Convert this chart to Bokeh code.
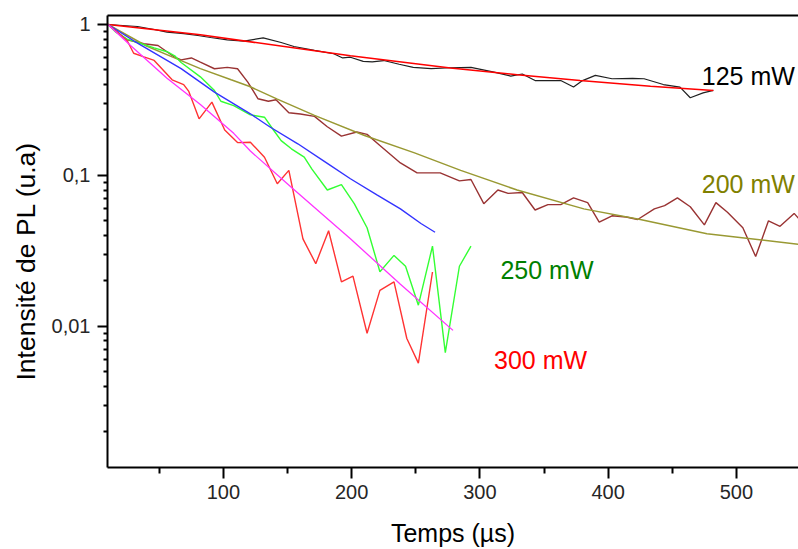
from bokeh.plotting import figure
from bokeh.models import FixedTicker, CustomJSTickFormatter, Range1d, Label, LinearAxis, Title
from bokeh.embed import file_html
from bokeh.resources import INLINE

# ---- data ----
# 125 mW : measured decay and fit
t125 = [10, 33, 45, 56, 69, 80, 90, 103, 116, 131, 145, 155, 171, 186, 193, 199, 209, 216, 225,
        237, 248, 262, 277, 293, 311, 324, 333, 343, 363, 373, 380, 390, 403, 419, 428, 443,
        456, 464, 474, 482]
i125 = [1.0, 0.97, 0.93, 0.89, 0.87, 0.845, 0.82, 0.79, 0.775, 0.816, 0.76, 0.715, 0.673, 0.64,
        0.60, 0.607, 0.57, 0.565, 0.577, 0.545, 0.52, 0.51, 0.517, 0.52, 0.483, 0.455, 0.47,
        0.425, 0.425, 0.385, 0.425, 0.46, 0.437, 0.44, 0.437, 0.40, 0.385, 0.327, 0.352, 0.366]
tf125 = [10, 82, 160, 199, 277, 329, 378, 433, 482]
if125 = [1.0, 0.855, 0.69, 0.62, 0.515, 0.465, 0.425, 0.39, 0.365]

# 200 mW
t200 = [10, 25, 38, 49, 62, 67, 75, 82, 93, 103, 111, 119, 127, 135, 141, 151, 160, 171, 181,
        192, 204, 212, 222, 238, 251, 269, 284, 293, 303, 314, 322, 333, 343, 353, 363, 373,
        384, 393, 403, 414, 423, 436, 444, 454, 464, 475, 484, 493, 505, 515, 525, 534, 545, 555]
i200 = [1.0, 0.79, 0.745, 0.726, 0.607, 0.583, 0.60, 0.5625, 0.509, 0.52, 0.509, 0.415, 0.322,
        0.31, 0.317, 0.26, 0.255, 0.246, 0.21, 0.182, 0.194, 0.187, 0.158, 0.121, 0.104, 0.104,
        0.092, 0.094, 0.065, 0.08, 0.076, 0.077, 0.059, 0.064, 0.064, 0.071, 0.066, 0.049,
        0.054, 0.053, 0.051, 0.06, 0.063, 0.071, 0.062, 0.047, 0.066, 0.057, 0.045, 0.029,
        0.05, 0.046, 0.056, 0.045]
tf200 = [10, 40, 60, 82, 106, 120, 142, 171, 210, 249, 285, 329, 381, 425, 477, 555]
if200 = [1.0, 0.72, 0.61, 0.51, 0.43, 0.39, 0.32, 0.25, 0.184, 0.141, 0.108, 0.08, 0.06, 0.051,
         0.041, 0.0345]

# 250 mW
t250 = [10, 16, 25, 35, 46, 56, 62, 67, 82, 93, 98, 108, 121, 132, 139, 145, 153, 163, 169,
        181, 192, 202, 212, 222, 233, 242, 252, 263, 273, 284, 293]
i250 = [1.0, 0.89, 0.80, 0.75, 0.70, 0.66, 0.62, 0.56, 0.45, 0.365, 0.31, 0.29, 0.252, 0.243,
        0.20, 0.17, 0.15, 0.132, 0.11, 0.08, 0.087, 0.065, 0.045, 0.023, 0.0295, 0.025, 0.0138,
        0.034, 0.0067, 0.025, 0.034]
tf250 = [10, 30, 67, 93, 121, 136, 158, 181, 199, 220, 238, 254, 265]
if250 = [1.0, 0.78, 0.51, 0.356, 0.256, 0.21, 0.162, 0.12, 0.095, 0.074, 0.06, 0.048, 0.042]

# 300 mW
t300 = [10, 25, 30, 38, 46, 60, 69, 73, 81, 91, 101, 111, 121, 132, 142, 151, 162, 172, 182,
        192, 201, 212, 222, 233, 243, 252, 263]
i300 = [1.0, 0.78, 0.645, 0.61, 0.578, 0.43, 0.40, 0.36, 0.237, 0.306, 0.20, 0.165, 0.166, 0.132,
        0.088, 0.108, 0.038, 0.026, 0.043, 0.0197, 0.0215, 0.009, 0.0173, 0.0197, 0.0083,
        0.0057, 0.0229]
tf300 = [10, 28, 56, 82, 108, 121, 154, 199, 238, 279]
if300 = [1.0, 0.72, 0.44, 0.295, 0.19, 0.145, 0.082, 0.038, 0.019, 0.0094]

x_ticks = [100, 200, 300, 400, 500]
x_minor = [50, 150, 250, 350, 450]
y_ticks = [0.01, 0.1, 1]
y_minor = [k * 0.001 for k in range(2, 10)] + [k * 0.01 for k in range(2, 10)] + [k * 0.1 for k in range(2, 10)]

series_labels = ["125 mW", "200 mW", "250 mW", "300 mW"]
label_x = [473, 473, 316, 311]
label_y = [0.459, 0.0872, 0.0236, 0.006]
label_colors = ["#000000", "#808000", "#008000", "#ff0000"]

FONT = "Liberation Sans"

p = figure(width=798, height=549, x_range=Range1d(9.6, 548.4), y_range=Range1d(0.00116, 1.147),
           y_axis_type="log", output_backend="svg", toolbar_location=None,
           min_border_left=107, min_border_right=0, min_border_top=15, min_border_bottom=82)
p.outline_line_color = None
p.xgrid.visible = False
p.ygrid.visible = False
p.background_fill_color = "white"
p.border_fill_color = "white"

# curves
p.line(t125, i125, line_color="#202020", line_width=1.2)
p.line(tf125, if125, line_color="#ff0000", line_width=1.6)
p.line(t200, i200, line_color="#993333", line_width=1.4)
p.line(tf200, if200, line_color="#999933", line_width=1.5)
p.line(t250, i250, line_color="#33ff33", line_width=1.4)
p.line(tf250, if250, line_color="#3333ff", line_width=1.4)
p.line(t300, i300, line_color="#ff3333", line_width=1.4)
p.line(tf300, if300, line_color="#ff33ff", line_width=1.3)

for txt, lx, ly, c in zip(series_labels, label_x, label_y, label_colors):
    p.add_layout(Label(x=lx, y=ly, text=txt, text_color=c, text_font=FONT,
                       text_font_size="25px", text_baseline="alphabetic", text_align="left"))

xax = p.below[0]
yax = p.left[0]
for ax in (xax, yax):
    ax.axis_line_width = 2
    ax.axis_line_color = "black"
    ax.major_tick_line_width = 2
    ax.minor_tick_line_width = 2
    ax.major_tick_in = 0
    ax.minor_tick_in = 0
    ax.major_label_text_font = FONT
    ax.major_label_text_font_size = "20px"
    ax.major_label_text_color = "#262626"

xax.ticker = FixedTicker(ticks=x_ticks, minor_ticks=x_minor)
xax.major_tick_out = 11
xax.minor_tick_out = 6
xax.major_label_standoff = 6
xax.axis_label = "Temps (µs)"
xax.axis_label_text_font = FONT
xax.axis_label_text_font_size = "25px"
xax.axis_label_text_font_style = "normal"
xax.axis_label_text_color = "black"
xax.axis_label_standoff = 17

yax.ticker = FixedTicker(ticks=y_ticks, minor_ticks=y_minor)
yax.formatter = CustomJSTickFormatter(code="return String(tick).replace('.', ',');")
yax.major_tick_out = 10
yax.minor_tick_out = 4
yax.major_label_standoff = 7

# top frame line (an axis with no ticks or labels)
top = LinearAxis(ticker=FixedTicker(ticks=[]), axis_line_width=2, axis_line_color="black",
                 major_tick_line_color=None, minor_tick_line_color=None,
                 major_tick_out=0, minor_tick_out=0, major_label_standoff=0,
                 major_label_text_font_size="0px")
p.add_layout(top, "above")

p.add_layout(Title(text="Intensité de PL (u.a)", align="left", offset=87, standoff=15,
                   text_font=FONT, text_font_size="26.5px",
                   text_font_style="normal", text_color="black"), "left")

open("out.html", "w").write(file_html(p, INLINE))
